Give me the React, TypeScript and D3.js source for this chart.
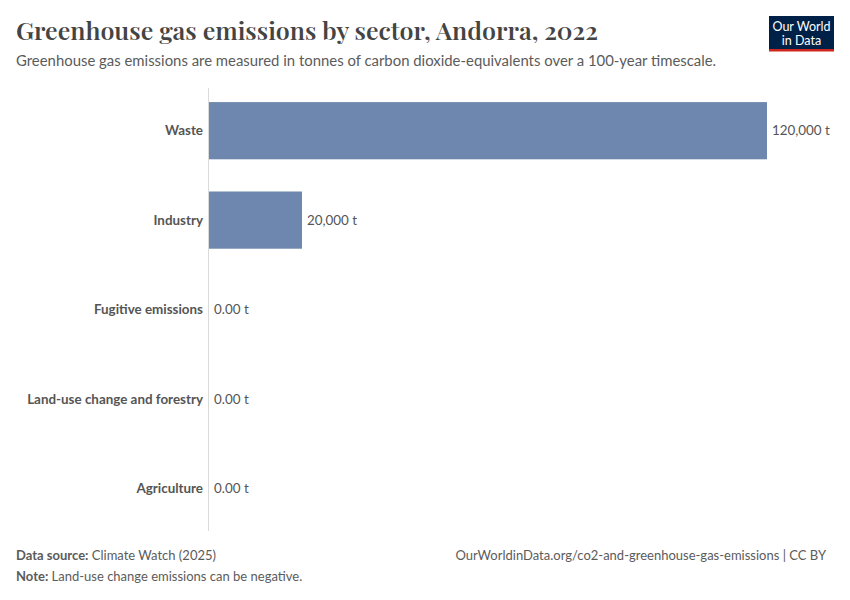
import React from "react";
import * as d3 from "d3";

const categories = ["Waste", "Industry", "Fugitive emissions", "Land-use change and forestry", "Agriculture"];
const values = [120000, 20000, 0, 0, 0];
const valueLabels = ["120,000 t", "20,000 t", "0.00 t", "0.00 t", "0.00 t"];

const W = 850;
const H = 600;

export default function App() {
  const x = d3.scaleLinear().domain([0, 120000]).range([209, 767]);
  const y = d3.scaleBand<string>().domain(categories).range([86, 533]).paddingInner(0.36).paddingOuter(0.18);
  const font = "Lato, 'Noto Sans', sans-serif";
  return (
    <svg width={W} height={H} viewBox={`0 0 ${W} ${H}`} style={{ position: "absolute", left: 0, top: 0, background: "#fff" }}>
      <rect x={0} y={0} width={W} height={H} fill="#fff" />
      <text x={16} y={40} fontFamily="'Playfair Display', 'DejaVu Serif', 'Liberation Serif', serif" fontSize={24} fontWeight={600} fill="#444" textLength={582} lengthAdjust="spacingAndGlyphs">
        Greenhouse gas emissions by sector, Andorra, 2022
      </text>
      <text x={16} y={66} fontFamily={font} fontSize={14.9} fill="#5b5b5b">
        Greenhouse gas emissions are measured in tonnes of carbon dioxide-equivalents over a 100-year timescale.
      </text>
      <g>
        <rect x={769} y={16} width={65} height={34} fill="#002147" />
        <rect x={769} y={49} width={65} height={2.5} fill="#ce261e" />
        <text x={801.5} y={31} textAnchor="middle" fontFamily={font} fontSize={12.5} fill="#fff">Our World</text>
        <text x={801.5} y={45} textAnchor="middle" fontFamily={font} fontSize={12.5} fill="#fff">in Data</text>
      </g>
      <line x1={208.5} x2={208.5} y1={88} y2={531} stroke="#dadada" strokeWidth={1} />
      {categories.map((c, i) => {
        const yc = (y(c) ?? 0) + y.bandwidth() / 2;
        const w = x(values[i]) - x(0);
        return (
          <g key={c}>
            {w > 0 && <rect x={x(0)} y={y(c)} width={w} height={y.bandwidth()} fill="#6d87ae" />}
            <text x={203} y={yc} dy="0.35em" textAnchor="end" fontFamily={font} fontSize={13.4} fontWeight={700} fill="#555">{c}</text>
            <text x={x(values[i]) + 5} y={yc} dy="0.35em" fontFamily={font} fontSize={13.4} fill="#555">{valueLabels[i]}</text>
          </g>
        );
      })}
      <text x={16} y={560} fontFamily={font} fontSize={13} fill="#5b5b5b">
        <tspan fontWeight={700}>Data source:</tspan> Climate Watch (2025)
      </text>
      <text x={16} y={581} fontFamily={font} fontSize={13} fill="#5b5b5b">
        <tspan fontWeight={700}>Note:</tspan> Land-use change emissions can be negative.
      </text>
      <text x={826} y={560} textAnchor="end" fontFamily={font} fontSize={13} fill="#5b5b5b">
        OurWorldinData.org/co2-and-greenhouse-gas-emissions | CC BY
      </text>
    </svg>
  );
}
